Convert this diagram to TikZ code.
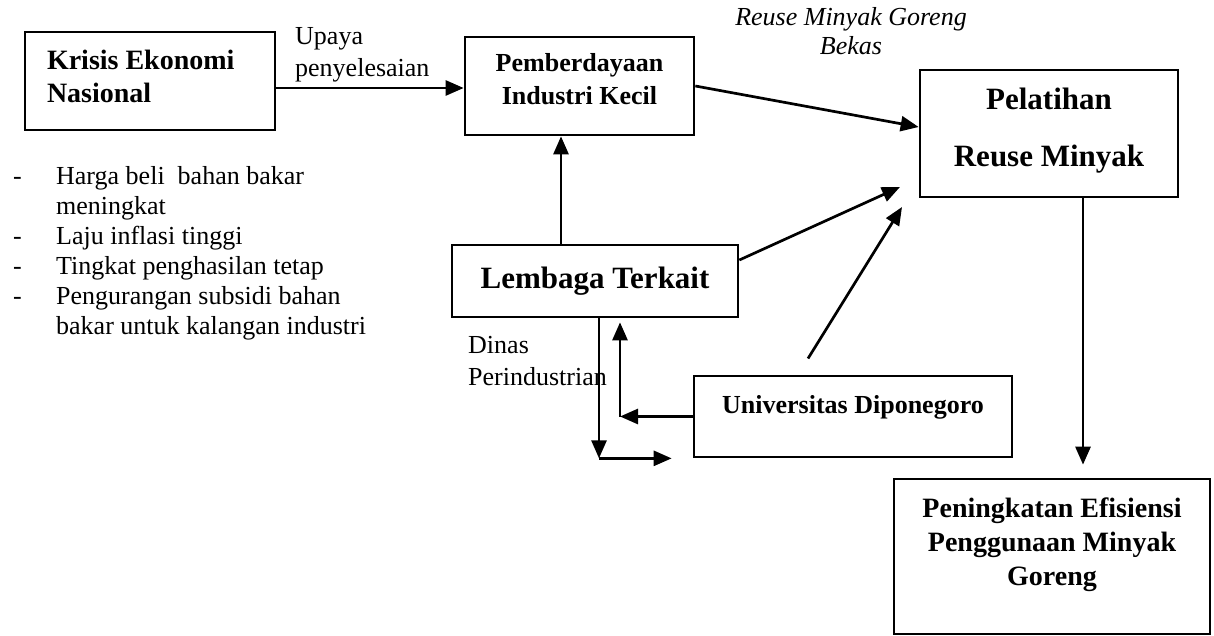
\documentclass[tikz,border=0pt]{standalone}
\usepackage{fontspec}
\setmainfont{Liberation Serif}
\usetikzlibrary{arrows.meta,calc}
\newcommand{\fs}[2]{\fontsize{#1}{#2}\selectfont}
\newcommand{\ml}[2]{\begin{tabular}[t]{@{}#1@{}}#2\end{tabular}}
\tikzset{
  box/.style={draw, line width=2.7pt, inner sep=0pt, anchor=base, align=center},
  txt/.style={inner sep=0pt},
  arr/.style={line width=2.7pt, -{Triangle[length=18pt,width=15pt]}},
}
\begin{document}
\begin{tikzpicture}[x=1pt,y=-1pt]
\useasboundingbox (0,0) rectangle (1214,636);
% boxes
\node[box, minimum width=250pt, text height=38pt, text depth=60pt, font=\bfseries\fs{28}{33}]
  (krisis) at (150,70) {\makebox[206pt][l]{\ml{l}{Krisis Ekonomi\\Nasional}}};
\node[box, minimum width=229pt, text height=35pt, text depth=63pt, font=\bfseries\fs{26}{33}]
  (pember) at (579.5,72) {\ml{c}{Pemberdayaan\\Industri Kecil}};
\node[box, minimum width=258pt, text height=40pt, text depth=87pt, font=\bfseries\fs{31}{57}]
  (pelatihan) at (1049,110) {\ml{c}{Pelatihan\\Reuse Minyak}};
\node[box, minimum width=286pt, text height=43pt, text depth=29pt, font=\bfseries\fs{31}{36}]
  (lembaga) at (595,288) {Lembaga Terkait};
\node[box, minimum width=318pt, text height=37pt, text depth=44pt, font=\bfseries\fs{26}{30}]
  (univ) at (853,413) {Universitas Diponegoro};
\node[box, minimum width=316pt, text height=38pt, text depth=117pt, font=\bfseries\fs{28}{34}]
  (pening) at (1052,517) {\ml{c}{Peningkatan Efisiensi\\Penggunaan Minyak\\Goreng}};
% free texts
\node[txt, anchor=base west, font=\fs{26}{32}] (upaya) at (295,45) {\ml{l}{Upaya\\penyelesaian}};
\node[txt, anchor=base, font=\itshape\fs{26}{29}] (reuse) at (851,26) {\ml{c}{Reuse Minyak Goreng\\Bekas}};
\node[txt, anchor=base west, font=\fs{26}{32}] (dinas) at (468,353) {\ml{l}{Dinas\\Perindustrian}};
\node[txt, anchor=base west, font=\fs{26}{30}] (faktor) at (13,185) {%
  \begin{tabular}[t]{@{}p{43pt}@{}l@{}}
  -&Harga beli~ bahan bakar\\
   &meningkat\\
  -&Laju inflasi tinggi\\
  -&Tingkat penghasilan tetap\\
  -&Pengurangan subsidi bahan\\
   &bakar untuk kalangan industri
  \end{tabular}};
% free ends of connectors
\coordinate (lemEnd) at (900,187);
\coordinate (uniEnd) at (902,207);
% connectors
\draw[arr] ([yshift=-7pt]krisis.east) -- ([yshift=-7pt]krisis.east -| pember.west);
\draw[arr] ([xshift=-34pt]lembaga.north) -- ([xshift=-34pt]lembaga.north |- pember.south);
\draw[arr] (pember.east) -- ([yshift=6.5pt]pelatihan.west);
\draw[arr] ([yshift=21pt]lembaga.east) -- (lemEnd);
\draw[arr, shorten <=19pt] ([xshift=-55pt]univ.north) -- (uniEnd);
\draw[arr, shorten >=13pt] ([xshift=34pt]pelatihan.south) -- ([xshift=34pt]pelatihan.south |- pening.north);
\draw[arr] ([xshift=4pt]lembaga.south) -- ([xshift=4pt]lembaga.south |- univ.south);
\draw[arr, shorten >=21pt] ([xshift=4pt]lembaga.south |- univ.south) -- (univ.south west);
\draw[arr] (univ.west) -- ([xshift=25pt]lembaga.south |- univ.west);
\draw[arr, shorten >=4pt] ([xshift=25pt]lembaga.south |- univ.west) -- ([xshift=25pt]lembaga.south);
\end{tikzpicture}
\end{document}
